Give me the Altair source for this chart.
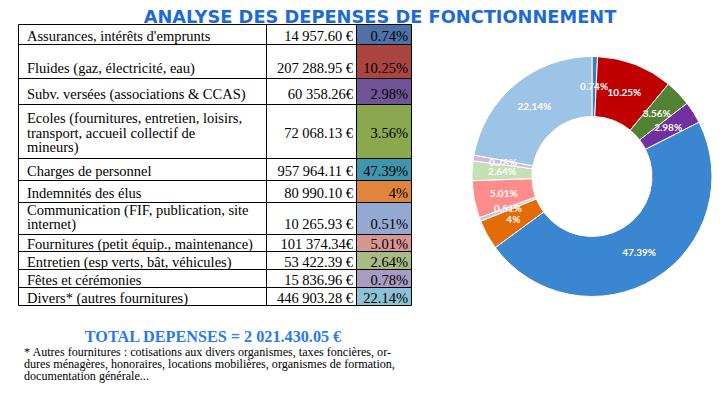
import altair as alt
import pandas as pd

# ---------------- data ----------------
labels = [
    "Assurances, intérêts d'emprunts",
    "Fluides (gaz, électricité, eau)",
    "Subv. versées (associations & CCAS)",
    "Ecoles (fournitures, entretien, loisirs,\ntransport, accueil collectif de\nmineurs)",
    "Charges de personnel",
    "Indemnités des élus",
    "Communication (FIF, publication, site\ninternet)",
    "Fournitures (petit équip., maintenance)",
    "Entretien (esp verts, bât, véhicules)",
    "Fêtes et cérémonies",
    "Divers* (autres fournitures)",
]
amounts = ["14 957.60 €", "207 288.95 €", "60 358.26€", "72 068.13 €", "957 964.11 €",
           "80 990.10 €", "10 265.93 €", "101 374.34€", "53 422.39 €", "15 836.96 €",
           "446 903.28 €"]
pct_text = ["0.74%", "10.25%", "2.98%", "3.56%", "47.39%", "4%", "0.51%", "5.01%",
            "2.64%", "0.78%", "22.14%"]
pct = [0.74, 10.25, 2.98, 3.56, 47.39, 4, 0.51, 5.01, 2.64, 0.78, 22.14]
donut_label = ["0.74%", "10.25%", "2.98%", "3.56%", "47.39%", "4%", "0.51%", "5.01%",
               "2.64%", "0.78%", "22,14%"]
donut_order = [0, 1, 3, 2, 4, 5, 6, 7, 8, 9, 10]
cell_colors = ["#4E72A8", "#AA4541", "#6F5597", "#8BA84F", "#3E95AE", "#E0853B",
               "#93A9D2", "#D89693", "#A8BA86", "#A99CC4", "#8DC1D5"]
donut_colors = ["#3D7DCA", "#C00000", "#7030A0", "#548235", "#3A86D0", "#E36C09",
                "#C5CCD6", "#FF8C8C", "#C5E0B4", "#D5B6E4", "#9DC3E6"]
title_text = "ANALYSE DES DEPENSES DE FONCTIONNEMENT"
total_text = "TOTAL DEPENSES = 2 021.430.05 €"
footnote = ("* Autres fournitures : cotisations aux divers organismes, taxes foncières, or-\n"
            "dures ménagères, honoraires, locations mobilières, organismes de formation,\n"
            "documentation générale...")

# ---------------- layout ----------------
W, H = 707, 378
col_edges = [18.5, 266.5, 356.5, 411.5]
row_top = 24.5
row_heights = [20, 34, 26, 54, 22, 22, 32, 17, 18, 18, 18]
row_valign = ["middle", "bottom", "bottom", "middle", "middle", "middle", "bottom",
              "middle", "middle", "middle", "middle"]
LH = 14.5
FS = 14.5
SERIF = "Liberation Serif"

cells, texts = [], []
top = row_top
for i, h in enumerate(row_heights):
    bot = top + h
    for j in range(3):
        cells.append({"x": col_edges[j], "x2": col_edges[j + 1], "y": top, "y2": bot,
                      "fill": cell_colors[i] if j == 2 else "#ffffff"})
    n = labels[i].count("\n") + 1
    if row_valign[i] == "bottom":
        yv = bot - 9.5
        yl = yv - (n - 1) * LH
    else:
        yv = (top + bot) / 2 + 2
        yl = yv - (n - 1) * LH / 2
    texts.append({"label": labels[i], "amount": amounts[i], "pct": pct_text[i],
                  "yl": yl, "yv": yv})
    top = bot

cells_df = pd.DataFrame(cells)
texts_df = pd.DataFrame(texts)
donut_df = pd.DataFrame({"pct": pct, "lab": donut_label, "ord": donut_order,
                         "col": donut_colors})

Y0 = 8
xs = alt.Scale(domain=[8, 8 + W], nice=False, zero=False)
ys = alt.Scale(domain=[Y0, Y0 + H], nice=False, zero=False, reverse=True)

rects = alt.Chart(cells_df).mark_rect(stroke="black", strokeWidth=1).encode(
    x=alt.X("x:Q", scale=xs, axis=None), x2="x2:Q",
    y=alt.Y("y:Q", scale=ys, axis=None), y2="y2:Q",
    fill=alt.Fill("fill:N", scale=None),
)

base_t = alt.Chart(texts_df)
lab_t = base_t.mark_text(align="left", baseline="middle", font=SERIF, fontSize=FS,
                         lineBreak="\n", lineHeight=LH, color="black").encode(
    x=alt.X("xx:Q", scale=xs, axis=None), y=alt.Y("yl:Q", scale=ys, axis=None),
    text="label:N").transform_calculate(xx="27")
amt_t = base_t.mark_text(align="right", baseline="middle", font=SERIF, fontSize=FS,
                         color="black").encode(
    x=alt.X("xx:Q", scale=xs, axis=None), y=alt.Y("yv:Q", scale=ys, axis=None),
    text="amount:N").transform_calculate(xx="353")
pct_t = base_t.mark_text(align="right", baseline="middle", font=SERIF, fontSize=FS,
                         color="black").encode(
    x=alt.X("xx:Q", scale=xs, axis=None), y=alt.Y("yv:Q", scale=ys, axis=None),
    text="pct:N").transform_calculate(xx="408")

title = alt.Chart(pd.DataFrame({"t": [title_text]})).mark_text(
    align="center", baseline="middle", font="DejaVu Sans", fontWeight="bold",
    fontSize=17.8, color="#1B6AD6").encode(
    x=alt.datum(380, scale=xs), y=alt.datum(17.5, scale=ys), text="t:N")

total = alt.Chart(pd.DataFrame({"t": [total_text]})).mark_text(
    align="center", baseline="middle", font=SERIF, fontWeight="bold",
    fontSize=16.2, color="#2979F2").encode(
    x=alt.datum(213, scale=xs), y=alt.datum(337, scale=ys), text="t:N")

foot = alt.Chart(pd.DataFrame({"t": [footnote]})).mark_text(
    align="left", baseline="middle", font=SERIF, fontSize=12.1, lineBreak="\n",
    lineHeight=12, color="black").encode(
    x=alt.datum(24, scale=xs), y=alt.datum(352, scale=ys), text="t:N")

CX, CY = 592 - 8, 176.5 - Y0
arc = alt.Chart(donut_df).mark_arc(innerRadius=60, outerRadius=120, stroke="white",
                                   strokeWidth=1).encode(
    theta=alt.Theta("pct:Q", stack=True),
    order=alt.Order("ord:Q"),
    color=alt.Color("col:N", scale=None),
    x=alt.value(CX), y=alt.value(CY),
)
arc_lab = alt.Chart(donut_df).mark_text(radius=90, font="Lato", fontWeight="bold",
                                        fontSize=10, color="white").encode(
    theta=alt.Theta("pct:Q", stack=True),
    order=alt.Order("ord:Q"),
    text="lab:N",
    x=alt.value(CX), y=alt.value(CY),
)

chart = alt.layer(rects, lab_t, amt_t, pct_t, title, total, foot, arc, arc_lab).properties(
    width=W, height=H, autosize=alt.AutoSizeParams(type="none"), padding=0,
    background="white",
).configure_view(stroke=None)

chart.save("out.html", embed_options={"renderer": "svg", "actions": False})
